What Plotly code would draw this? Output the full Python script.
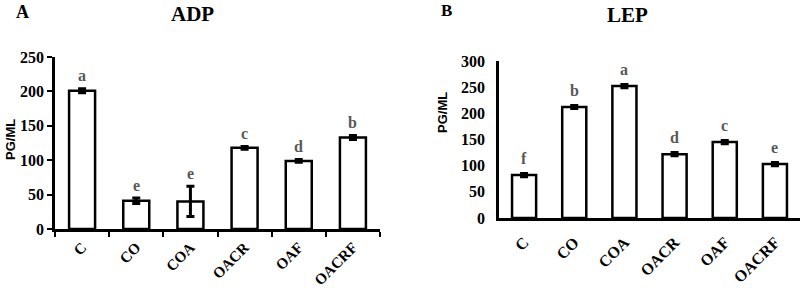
import plotly.graph_objects as go

categories = ["C", "CO", "COA", "OACR", "OAF", "OACRF"]
adp_values = [201, 41, 40, 118, 99, 133]
adp_errors = [3, 4, 22, 2, 2, 3]
adp_letters = ["a", "e", "e", "c", "d", "b"]
lep_values = [82, 212, 252, 122, 145, 103]
lep_errors = [3, 3, 3, 3, 3, 3]
lep_letters = ["f", "b", "a", "d", "c", "e"]

serif = "Liberation Serif, Times New Roman, serif"
sans = "Liberation Sans, Arial, sans-serif"

fig = go.Figure()

def add_bars(vals, errs, xa, ya):
    fig.add_trace(go.Bar(
        x=categories, y=vals, xaxis=xa, yaxis=ya,
        marker=dict(color="white", line=dict(color="black", width=2.5)),
        width=0.48,
        error_y=dict(type="data", array=errs, visible=True, color="black",
                     thickness=3, width=4),
        showlegend=False,
    ))

add_bars(adp_values, adp_errors, "x", "y")
add_bars(lep_values, lep_errors, "x2", "y2")

ann = []
for c, v, e, l in zip(categories, adp_values, adp_errors, adp_letters):
    ann.append(dict(x=c, y=v + e, xref="x", yref="y", text=l, showarrow=False,
                    yanchor="middle", yshift=13,
                    font=dict(family=serif, size=16, color="#595959", weight="bold")))
for c, v, e, l in zip(categories, lep_values, lep_errors, lep_letters):
    ann.append(dict(x=c, y=v + e, xref="x2", yref="y2", text=l, showarrow=False,
                    yanchor="middle", yshift=15,
                    font=dict(family=serif, size=16, color="#595959", weight="bold")))

for txt, x, y, size in [("A", 22/800, 1-12/288, 18), ("ADP", 192/800, 1-14/288, 21),
                        ("B", 446/800, 1-11/288, 17), ("LEP", 627/800, 1-15/288, 21)]:
    ann.append(dict(x=x, y=y, xref="paper", yref="paper", text=txt, showarrow=False,
                    xanchor="center", yanchor="middle",
                    font=dict(family=serif, size=size, color="black", weight="bold")))

for x, y in [(10/800, 1-140/288), (442/800, 1-113/288)]:
    ann.append(dict(x=x, y=y, xref="paper", yref="paper", text="PG/ML", showarrow=False,
                    textangle=-90, xanchor="center", yanchor="middle",
                    font=dict(family=sans, size=13, color="black", weight="bold")))

tickfont = dict(family=serif, size=16, color="black", weight="bold")
xtickfont_a = dict(family=serif, size=15, color="black", weight="bold")

fig.update_layout(
    width=800, height=288,
    margin=dict(l=0, r=0, t=0, b=0, autoexpand=False),
    paper_bgcolor="white", plot_bgcolor="white",
    annotations=ann,
    xaxis=dict(domain=[55/800, 380/800], anchor="y", showline=True, linecolor="black",
               linewidth=2.5, ticks="outside", tickson="boundaries", ticklen=5,
               tickwidth=2, tickcolor="black", tickangle=-45, tickfont=xtickfont_a,
               showgrid=False, range=[-0.5, 5.5], ticklabelstandoff=1, automargin=False),
    yaxis=dict(domain=[1-229/288, 1-57/288], anchor="x", range=[0, 250],
               dtick=50, showline=True, linecolor="black", linewidth=2.5,
               ticks="outside", ticklen=5, tickwidth=2, tickcolor="black",
               tickfont=tickfont, showgrid=False, zeroline=False, automargin=False),
    xaxis2=dict(domain=[499/800, 1.0], anchor="y2", showline=True, linecolor="black",
                linewidth=2.5, ticks="", tickangle=-45, tickfont=tickfont,
                showgrid=False, range=[-0.5, 5.5], ticklabelstandoff=6, automargin=False),
    yaxis2=dict(domain=[1-218/288, 1-61/288], anchor="x2", range=[0, 300],
                dtick=50, showline=True, linecolor="black", linewidth=2.5,
                ticks="", tickfont=tickfont, showgrid=False, zeroline=False,
                ticklabelstandoff=8, automargin=False),
)

fig.write_html("out.html")
